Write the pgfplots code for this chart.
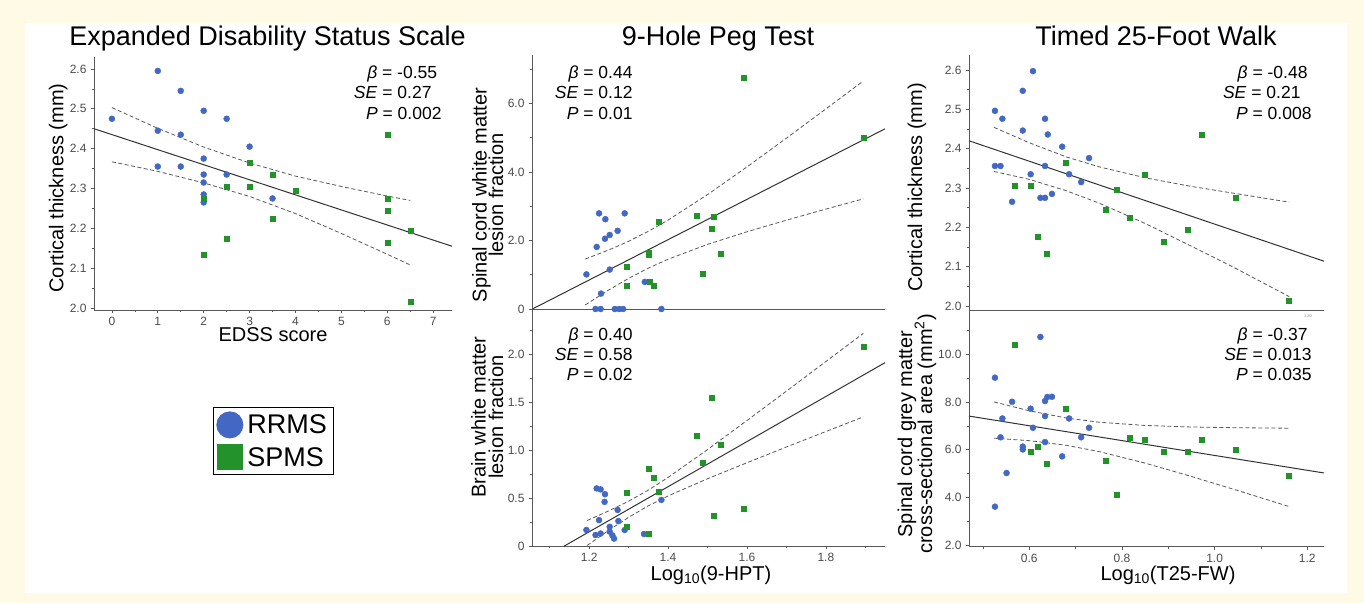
\documentclass[border=0pt]{standalone}
\usepackage{fontspec}
\setmainfont{Liberation Sans}
\usepackage{pgfplots}
\pgfplotsset{compat=1.18}
\definecolor{cream}{RGB}{255,250,230}
\definecolor{rrms}{RGB}{66,104,196}
\definecolor{spms}{RGB}{36,146,42}
\pgfplotsset{
  myax/.style={scale only axis, clip=false,
    axis x line*=bottom, axis y line*=left,
    axis line style={-, draw=black!65, line width=0.8pt},
    tick style={draw=black!65, line width=0.6pt},
    tick align=outside, major tick length=3pt, minor tick length=2pt,
    ticklabel style={font=\fontsize{12}{12}\selectfont, text=black!70},
    xticklabel style={yshift=-1pt},
    yticklabel style={xshift=-1pt},
  },
  blu/.style={only marks, mark=*, mark size=3pt, rrms, mark options={draw=none, fill=rrms}},
  grn/.style={only marks, mark=square*, mark size=2.5pt, spms, mark options={draw=none, fill=spms}},
  fitl/.style={no marks, draw=black!80, line width=1pt},
  cil/.style={no marks, draw=black!65, line width=0.8pt, dash pattern=on 4pt off 2.5pt},
}
\begin{document}
\begin{tikzpicture}
\fill[cream] (0,0) rectangle (1364pt,603pt);
\fill[white] (25pt,10pt) rectangle (1347pt,580pt);

% ---------------- Panel 1: EDSS ----------------
\begin{axis}[myax, at={(94pt,293pt)}, anchor=south west, width=358pt, height=253pt,
  xmin=-0.39, xmax=7.41, ymin=1.995, ymax=2.63,
  xtick={0,1,2,3,4,5,6,7}, xticklabels={0,1,2,3,4,5,6,7}, minor x tick num=1,
  ytick={2,2.1,2.2,2.3,2.4,2.5,2.6}, yticklabels={2.0,2.1,2.2,2.3,2.4,2.5,2.6}, minor y tick num=1,
  legend style={at={(axis description cs:0.332,-0.383)}, anchor=north west, draw=black, line width=1pt,
    font=\fontsize{27}{28}\selectfont, inner xsep=3pt, inner ysep=4pt, row sep=6pt,
    legend cell align=left,
    nodes={inner xsep=4pt, inner ysep=1pt}},
]
\addplot[blu, forget plot] coordinates {
(0,2.475)(1,2.595)(1,2.445)(1,2.355)(1.5,2.545)(1.5,2.435)(1.5,2.355)
(2,2.495)(2,2.375)(2,2.335)(2,2.315)(2,2.285)(2,2.265)(2.5,2.475)(2.5,2.335)
(3,2.405)(3.5,2.275)};
\addplot[grn, forget plot] coordinates {
(2,2.275)(2,2.135)(2.5,2.305)(2.5,2.175)(3,2.365)(3,2.305)(3.5,2.335)(3.5,2.225)
(4,2.295)(6,2.435)(6,2.275)(6,2.245)(6,2.165)(6.5,2.195)(6.5,2.015)};
\addplot[fitl, forget plot] coordinates {(-0.39,2.450)(7.41,2.155)};
\addplot[cil, forget plot] coordinates {(0,2.503)(1,2.451)(2,2.404)(3,2.364)(4,2.331)(5,2.305)(6,2.281)(6.5,2.270)};
\addplot[cil, forget plot] coordinates {(0,2.367)(1,2.343)(2,2.314)(3,2.280)(4,2.237)(5,2.187)(6,2.135)(6.5,2.108)};
\addlegendimage{legend image code/.code={\fill[rrms] (13pt,0pt) circle (13pt);}}
\addlegendentry{RRMS}
\addlegendimage{legend image code/.code={\fill[spms] (0.5pt,-12.5pt) rectangle (25.5pt,12.5pt);}}
\addlegendentry{SPMS}
\end{axis}

% ---------------- Panel 2: 9-HPT spinal cord ----------------
\begin{axis}[myax, at={(532pt,294pt)}, anchor=south west, width=353pt, height=254pt,
  xmin=1.055, xmax=1.95, ymin=0, ymax=7.41,
  xtick=\empty,
  ytick={0,2,4,6}, yticklabels={0,2.0,4.0,6.0}, minor ytick={1,3,5,7},
]
\addplot[blu] coordinates {
(1.193,1.01)(1.219,1.81)(1.225,2.79)(1.241,2.62)(1.240,2.05)(1.252,2.16)(1.272,2.28)
(1.252,1.15)(1.290,2.79)(1.230,0.45)(1.216,0)(1.229,0)(1.265,0)(1.276,0)(1.286,0)
(1.341,0.79)(1.383,0)};
\addplot[grn] coordinates {
(1.295,1.23)(1.295,0.69)(1.352,1.65)(1.352,1.57)(1.354,0.81)(1.364,0.67)(1.375,2.54)
(1.473,2.72)(1.487,1.03)(1.510,2.33)(1.516,2.70)(1.534,1.61)(1.591,6.75)(1.895,4.99)};
\addplot[fitl] coordinates {(1.056,0)(1.95,5.257)};
\addplot[cil] coordinates {(1.19,1.458)(1.25,1.723)(1.3,1.976)(1.35,2.266)(1.4,2.594)(1.5,3.337)(1.6,4.145)(1.7,4.983)(1.8,5.836)(1.895,6.653)};
\addplot[cil] coordinates {(1.19,0.118)(1.25,0.559)(1.3,0.894)(1.35,1.192)(1.4,1.452)(1.5,1.885)(1.6,2.253)(1.7,2.591)(1.8,2.914)(1.895,3.213)};
\end{axis}

% ---------------- Panel 3: 9-HPT brain ----------------
\begin{axis}[myax, at={(532pt,57pt)}, anchor=south west, width=353pt, height=236pt,
  xmin=1.055, xmax=1.95, ymin=0, ymax=2.46,
  xtick={1.2,1.4,1.6,1.8}, xticklabels={1.2,1.4,1.6,1.8}, minor xtick={1.1,1.3,1.5,1.7,1.9},
  ytick={0,0.5,1,1.5,2}, yticklabels={0,0.5,1.0,1.5,2.0}, minor ytick={0.25,0.75,1.25,1.75,2.25},
]
\addplot[blu] coordinates {
(1.193,0.167)(1.216,0.115)(1.219,0.60)(1.229,0.59)(1.225,0.27)(1.240,0.54)(1.239,0.46)
(1.229,0.13)(1.252,0.20)(1.252,0.15)(1.259,0.11)(1.263,0.077)(1.272,0.376)(1.274,0.26)
(1.290,0.167)(1.339,0.125)(1.383,0.48)};
\addplot[grn] coordinates {
(1.295,0.56)(1.295,0.20)(1.352,0.13)(1.352,0.81)(1.364,0.71)(1.375,0.57)(1.473,1.15)
(1.487,0.87)(1.510,1.55)(1.516,0.32)(1.534,1.06)(1.591,0.39)(1.895,2.08)};
\addplot[fitl] coordinates {(1.137,0)(1.95,1.911)};
\addplot[cil] coordinates {(1.195,0.266)(1.25,0.367)(1.3,0.467)(1.35,0.583)(1.4,0.715)(1.5,1.005)(1.6,1.308)(1.7,1.614)(1.8,1.923)(1.895,2.216)};
\addplot[cil] coordinates {(1.195,0.006)(1.25,0.165)(1.3,0.299)(1.35,0.419)(1.4,0.522)(1.5,0.701)(1.6,0.868)(1.7,1.032)(1.8,1.193)(1.895,1.346)};
\end{axis}

% ---------------- Panel 4: T25-FW cortical ----------------
\begin{axis}[myax, at={(969pt,293pt)}, anchor=south west, width=355pt, height=255pt,
  xmin=0.47, xmax=1.236, ymin=1.99, ymax=2.638,
  xtick=\empty,
  ytick={2,2.1,2.2,2.3,2.4,2.5,2.6}, yticklabels={2.0,2.1,2.2,2.3,2.4,2.5,2.6}, minor y tick num=1,
]
\addplot[blu] coordinates {
(0.526,2.496)(0.542,2.476)(0.586,2.547)(0.586,2.446)(0.608,2.597)(0.634,2.476)(0.640,2.436)
(0.671,2.405)(0.729,2.376)(0.526,2.356)(0.538,2.356)(0.634,2.356)(0.603,2.335)(0.686,2.335)
(0.712,2.315)(0.563,2.265)(0.624,2.275)(0.634,2.275)(0.649,2.285)};
\addplot[grn] coordinates {
(0.569,2.305)(0.603,2.305)(0.679,2.365)(0.619,2.175)(0.637,2.134)(0.766,2.244)(0.789,2.295)
(0.816,2.225)(0.849,2.335)(0.891,2.164)(0.942,2.195)(0.972,2.436)(1.046,2.276)(1.160,2.013)};
\addplot[fitl] coordinates {(0.47,2.420)(1.236,2.114)};
\addplot[cil] coordinates {(0.524,2.454)(0.6,2.415)(0.68,2.379)(0.75,2.354)(0.85,2.326)(0.95,2.304)(1.05,2.285)(1.161,2.264)};
\addplot[cil] coordinates {(0.524,2.342)(0.6,2.322)(0.68,2.293)(0.75,2.262)(0.85,2.210)(0.95,2.152)(1.05,2.093)(1.161,2.024)};
\end{axis}

% ---------------- Panel 5: T25-FW grey matter ----------------
\begin{axis}[myax, at={(969pt,56.3pt)}, anchor=south west, width=355pt, height=236.7pt,
  xmin=0.47, xmax=1.236, ymin=1.93, ymax=11.86,
  xtick={0.6,0.8,1.0,1.2}, xticklabels={0.6,0.8,1.0,1.2}, minor xtick={0.5,0.7,0.9,1.1},
  ytick={2,4,6,8,10}, yticklabels={2.0,4.0,6.0,8.0,10.0}, minor ytick={3,5,7,9,11},
]
\addplot[blu] coordinates {
(0.526,9.02)(0.542,7.31)(0.538,6.52)(0.563,8.01)(0.551,5.02)(0.526,3.61)(0.586,6.13)
(0.586,6.01)(0.603,7.72)(0.608,6.92)(0.624,10.73)(0.634,8.04)(0.639,8.21)(0.649,8.22)
(0.634,7.41)(0.634,6.32)(0.686,7.31)(0.671,5.72)(0.712,6.52)(0.729,6.92)};
\addplot[grn] coordinates {
(0.569,10.42)(0.603,5.92)(0.619,6.11)(0.637,5.41)(0.679,7.72)(0.766,5.52)(0.789,4.11)
(0.816,6.52)(0.849,6.42)(0.891,5.92)(0.942,5.92)(0.972,6.42)(1.046,6.01)(1.160,4.92)};
\addplot[fitl] coordinates {(0.47,7.41)(1.236,5.023)};
\addplot[cil] coordinates {(0.524,8.002)(0.6,7.632)(0.68,7.329)(0.75,7.153)(0.85,7.016)(0.95,6.952)(1.05,6.920)(1.161,6.902)};
\addplot[cil] coordinates {(0.524,6.482)(0.6,6.378)(0.68,6.184)(0.75,5.923)(0.85,5.436)(0.95,4.876)(1.05,4.286)(1.161,3.612)};
\end{axis}

% ---------------- Titles ----------------
\begin{scope}[every node/.style={font=\fontsize{27}{30}\selectfont, anchor=base}]
\node at (267.5pt,557pt) {Expanded Disability Status Scale};
\node at (718pt,557pt) {9-Hole Peg Test};
\node at (1156pt,557pt) {Timed 25-Foot Walk};
\end{scope}

% ---------------- Axis labels ----------------
\begin{scope}[every node/.style={font=\fontsize{20}{22}\selectfont, anchor=base, inner sep=0pt}]
\node[rotate=90] at (63.3pt,415pt) {Cortical thickness (mm)};
\node[rotate=90] at (486.5pt,408pt) {Spinal cord white matter};
\node[rotate=90] at (503pt,408pt) {lesion fraction};
\node[rotate=90] at (485.5pt,186pt) {Brain white matter};
\node[rotate=90] at (503pt,186pt) {lesion fraction};
\node[rotate=90] at (922pt,415.5pt) {Cortical thickness (mm)};
\node[rotate=90] at (912pt,169pt) {Spinal cord grey matter};
\node[rotate=90] at (932pt,169pt) {cross-sectional area (mm\textsuperscript{2})};
\node at (273pt,261.3pt) {EDSS score};
\node at (711pt,22.3pt) {Log\textsubscript{10}(9-HPT)};
\node at (1168pt,22.3pt) {Log\textsubscript{10}(T25-FW)};
\end{scope}

% ---------------- Statistics ----------------
\begin{scope}[every node/.style={font=\fontsize{17.5}{19}\selectfont, anchor=base east, inner sep=0pt}]
\node at (437.3pt,524.3pt) {\textit{β} = -0.55};
\node at (431.7pt,504.3pt) {\textit{SE} = 0.27};
\node at (441.7pt,483.7pt) {\textit{P} = 0.002};
\node at (632.7pt,524.7pt) {\textit{β} = 0.44};
\node at (632.7pt,504.3pt) {\textit{SE} = 0.12};
\node at (632.7pt,483.7pt) {\textit{P} = 0.01};
\node at (632.7pt,262.3pt) {\textit{β} = 0.40};
\node at (632.7pt,242.3pt) {\textit{SE} = 0.58};
\node at (632.7pt,222.3pt) {\textit{P} = 0.02};
\node at (1307.7pt,524.7pt) {\textit{β} = -0.48};
\node at (1300.7pt,504.3pt) {\textit{SE} = 0.21};
\node at (1311.7pt,483.7pt) {\textit{P} = 0.008};
\node at (1307.7pt,262.3pt) {\textit{β} = -0.37};
\node at (1311.7pt,242.3pt) {\textit{SE} = 0.013};
\node at (1311.7pt,222.3pt) {\textit{P} = 0.035};
\end{scope}
\node[font=\fontsize{4}{4}\selectfont, text=black!50, inner sep=0pt] at (1308pt,287pt) {1.20};

\pgfresetboundingbox
\path (0,0) rectangle (1364pt,603pt);
\end{tikzpicture}
\end{document}
